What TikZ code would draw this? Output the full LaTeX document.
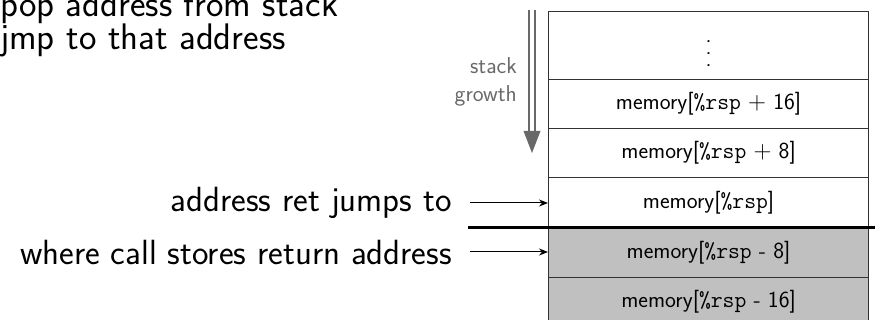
\documentclass[tikz,border=0pt]{standalone}
\usepackage{fontspec}
\usetikzlibrary{arrows.meta}
\definecolor{growgray}{RGB}{105,105,105}
\definecolor{cellgray}{RGB}{192,192,192}
\definecolor{edgegray}{RGB}{50,50,50}
\begin{document}
\begin{tikzpicture}[x=1pt,y=-1pt,
  cell/.style={draw=edgegray,line width=1.2pt,minimum width=320pt,inner sep=0pt,
    font=\sffamily\fontsize{23}{28}\selectfont,anchor=north west},
  big/.style={font=\sffamily\fontsize{35}{40}\selectfont,inner sep=0pt},
  topline/.style={font=\sffamily\fontsize{37}{40}\selectfont,inner sep=0pt,anchor=base west},
  pointer/.style={line width=1pt,-{Stealth[length=9pt,width=7pt]}},
]
\useasboundingbox (0,0) rectangle (875,320);
% top text
\node[topline] (t1) at (0,17) {pop address from stack};
\node[topline] (t2) at (0,50) {jmp to that address};
% stack cells
\node[cell,minimum height=68pt] (r0) at (548,11) {};
\node[font=\sffamily\fontsize{23}{28}\selectfont,inner sep=0pt] (dots) at ([yshift=-8pt]r0.center)
  {\vbox{\baselineskip=12pt\lineskiplimit=0pt\hbox{.}\hbox{.}\hbox{.}}};
\node[cell,minimum height=49pt] (r1) at (548,79) {memory[\texttt{\%rsp} $+$ 16]};
\node[cell,minimum height=49pt] (r2) at (548,128) {memory[\texttt{\%rsp} $+$ 8]};
\node[cell,minimum height=51pt] (r3) at (548,177) {memory[\texttt{\%rsp}]};
\node[cell,fill=cellgray,minimum height=49pt] (r4) at (548,228) {memory[\texttt{\%rsp} - 8]};
\node[cell,fill=cellgray,minimum height=49pt] (r5) at (548,277) {memory[\texttt{\%rsp} - 16]};
% thick separator
\coordinate (sepL) at (468,228);
\coordinate (sepR) at (875,228);
\draw[line width=3pt] (sepL) -- (sepR);
% stack growth arrow
\coordinate (gtop) at (532,10);
\coordinate (gtip) at (532,153);
\draw[growgray,line width=2pt] ([xshift=-3pt]gtop) -- ([xshift=-3pt,yshift=21pt]gtip);
\draw[growgray,line width=2pt] ([xshift=3pt]gtop) -- ([xshift=3pt,yshift=21pt]gtip);
\fill[growgray] (gtip) -- ([xshift=-8.5pt,yshift=22pt]gtip) -- ([xshift=8.5pt,yshift=22pt]gtip) -- cycle;
\node[anchor=east,align=right,text=growgray,font=\sffamily\fontsize{23}{28}\selectfont,inner sep=0pt] (sg) at (517,82) {stack\\growth};
% labels
\node[big,anchor=east] (l1) at (452,203) {address ret jumps to};
\node[big,anchor=east] (l2) at (452,252) {where call stores return address};
\draw[pointer] ([xshift=18pt]l1.east) -- (l1.east -| r3.west);
\draw[pointer] ([xshift=18pt]l2.east) -- (l2.east -| r4.west);
\end{tikzpicture}
\end{document}
